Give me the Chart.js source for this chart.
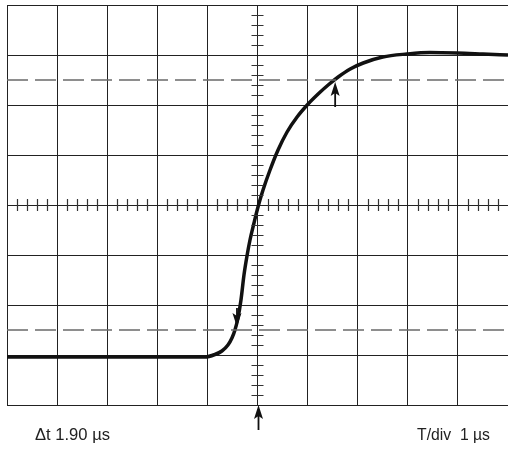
<!DOCTYPE html>
<html>
<head>
<meta charset="utf-8">
<script src="https://cdn.jsdelivr.net/npm/chart.js@4.4.1/dist/chart.umd.min.js"></script>
<style>
  html, body { margin: 0; padding: 0; background: #fff; }
  #wrap { width: 510px; height: 449px; }
</style>
</head>
<body>
<div id="wrap"><canvas id="scope" width="510" height="449"></canvas></div>
<script>
// Trace (x in divisions 0..10, y in divisions -4..4)
const traceX = [0, 1.86, 3.95, 4.15, 4.29, 4.41, 4.49, 4.55, 4.61, 4.67, 4.73, 4.79, 4.85, 4.93, 5.01,
                5.11, 5.25, 5.41, 5.59, 5.79, 6.01, 6.21, 6.41, 6.61, 6.85, 7.11, 7.5, 7.98, 8.44, 8.98, 9.5, 10];
const traceY = [-3.04, -3.04, -3.04, -2.99, -2.92, -2.8, -2.66, -2.5, -2.26, -1.9, -1.4, -1.02, -0.7, -0.36, -0.04,
                0.3, 0.7, 1.1, 1.46, 1.76, 2.02, 2.22, 2.4, 2.56, 2.72, 2.84, 2.96, 3.02, 3.05, 3.04, 3.02, 3.0];

// 10% / 90% reference levels
const levelX = [0, 10];
const levelHigh = [2.5, 2.5];
const levelLow = [-2.5, -2.5];

// cursor arrows: x, tip y, tail y
const arrowX = [6.55, 4.59, 5.02];
const arrowTip = [2.46, -2.44, -4];
const arrowTail = [1.96, -2.06, -4.5];

// texts under the graticule
const labelLeft = 'Δt 1.90 µs';
const labelRight = 'T/div  1 µs';

const pts = (xs, ys) => xs.map((x, i) => ({ x: x, y: ys[i] }));

// petites graduations sur les axes centraux + fleches + textes
const scopePlugin = {
    id: 'scope',
    afterDraw(chart) {
        const ctx = chart.ctx;
        const sx = chart.scales.x, sy = chart.scales.y;
        const cx = sx.getPixelForValue(5), cy = sy.getPixelForValue(0);
        ctx.save();
        ctx.strokeStyle = '#333';
        ctx.lineWidth = 1.2;
        ctx.beginPath();
        for (let i = 1; i < 50; i++) {
            if (i % 5 === 0) continue;
            const px = Math.round(sx.getPixelForValue(i / 5)) + 0.5;
            ctx.moveTo(px, cy - 6); ctx.lineTo(px, cy + 6);
        }
        for (let i = -19; i < 20; i++) {
            if (i % 5 === 0) continue;
            const py = Math.round(sy.getPixelForValue(i / 5)) + 0.5;
            ctx.moveTo(cx - 6, py); ctx.lineTo(cx + 6, py);
        }
        ctx.stroke();

        // fleches
        ctx.fillStyle = '#111';
        ctx.strokeStyle = '#111';
        arrowX.forEach((ax, i) => {
            const px = sx.getPixelForValue(ax);
            const tip = sy.getPixelForValue(arrowTip[i]);
            const tail = sy.getPixelForValue(arrowTail[i]);
            const dir = tail > tip ? 1 : -1;
            ctx.lineWidth = 1.8;
            ctx.beginPath();
            ctx.moveTo(px, tail); ctx.lineTo(px, tip + dir * 8);
            ctx.stroke();
            ctx.beginPath();
            ctx.moveTo(px, tip);
            ctx.lineTo(px - 4.5, tip + dir * 14);
            ctx.lineTo(px, tip + dir * 11);
            ctx.lineTo(px + 4.5, tip + dir * 14);
            ctx.closePath();
            ctx.fill();
        });

        // textes
        ctx.fillStyle = '#222';
        ctx.font = '17px "Liberation Sans Narrow", "Liberation Sans", Arial, sans-serif';
        ctx.textBaseline = 'alphabetic';
        const drawFit = (txt, x0, x1, y) => {
            const w = ctx.measureText(txt).width;
            ctx.save();
            ctx.translate(x0, y);
            ctx.scale((x1 - x0) / w, 1);
            ctx.fillText(txt, 0, 0);
            ctx.restore();
        };
        drawFit(labelLeft, 35, 110, 440);
        drawFit(labelRight, 417, 490, 440);
        ctx.restore();
    }
};

const ctxScope = document.getElementById('scope').getContext('2d');
new Chart(ctxScope, {
    type: 'scatter',
    data: {
        datasets: [
            {
                data: pts(levelX, levelHigh),
                showLine: true,
                borderColor: '#6a6a6a',
                borderWidth: 1.5,
                borderDash: [21, 7],
                pointRadius: 0
            },
            {
                data: pts(levelX, levelLow),
                showLine: true,
                borderColor: '#6a6a6a',
                borderWidth: 1.5,
                borderDash: [21, 7],
                pointRadius: 0
            },
            {
                data: pts(traceX, traceY),
                showLine: true,
                borderColor: '#111',
                borderWidth: 3.5,
                cubicInterpolationMode: 'monotone',
                pointRadius: 0
            }
        ]
    },
    options: {
        responsive: false,
        animation: false,
        events: [],
        layout: { padding: { left: 7, top: 5, right: 2, bottom: 44 } },
        plugins: { legend: { display: false }, tooltip: { enabled: false }, title: { display: false } },
        scales: {
            x: {
                type: 'linear', min: 0, max: 10,
                ticks: { display: false, stepSize: 1 },
                border: { display: false },
                grid: {
                    drawTicks: false,
                    lineWidth: 1,
                    color: c => c.tick && c.tick.value === 10 ? 'rgba(0,0,0,0)' : '#222'
                }
            },
            y: {
                type: 'linear', min: -4, max: 4,
                ticks: { display: false, stepSize: 1 },
                border: { display: false },
                grid: { drawTicks: false, lineWidth: 1, color: '#222' }
            }
        }
    },
    plugins: [scopePlugin]
});
</script>
</body>
</html>
